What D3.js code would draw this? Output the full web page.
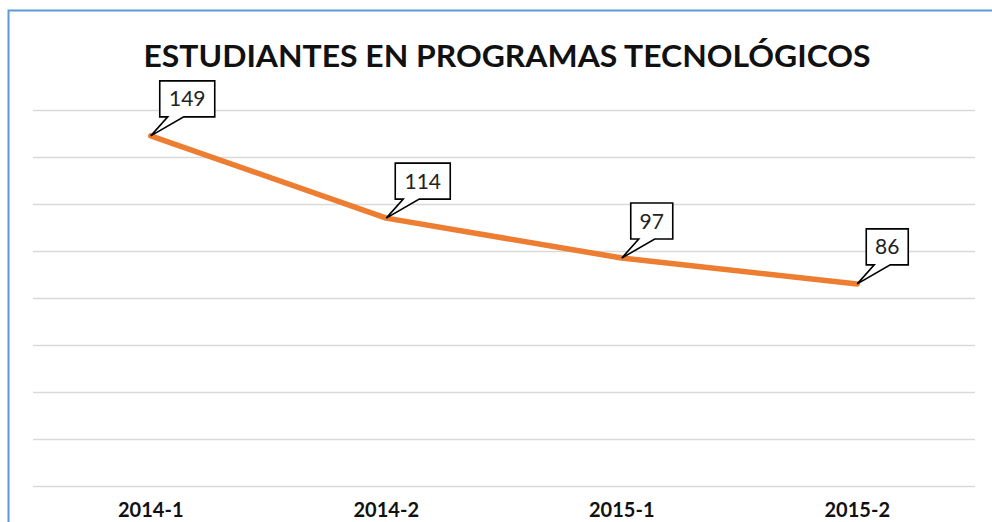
<!DOCTYPE html>
<html>
<head>
<meta charset="utf-8">
<script src="https://cdn.jsdelivr.net/npm/d3@7"></script>
<style>
  body { margin: 0; background: #fff; }
  svg { display: block; font-family: Lato, "Open Sans", sans-serif; }
</style>
</head>
<body>
<svg id="chart" width="992" height="522"></svg>
<script>
// data
const periods = ['2014-1', '2014-2', '2015-1', '2015-2']
const students = [149, 114, 97, 86]
const yTicks = [0, 20, 40, 60, 80, 100, 120, 140, 160]
const title = 'ESTUDIANTES EN PROGRAMAS TECNOLÓGICOS'

const svg = d3.select('#chart')
const plot = { left: 33, right: 975, top: 110, bottom: 486 }

// chart frame (only top and left are inside the window)
svg.append('rect')
  .attr('x', 8.5).attr('y', 10.5)
  .attr('width', 1100).attr('height', 600)
  .attr('fill', 'none')
  .attr('stroke', '#5b9bd5')
  .attr('stroke-width', 2)

svg.append('text')
  .attr('x', 507).attr('y', 67)
  .attr('text-anchor', 'middle')
  .attr('font-size', 30)
  .attr('font-weight', 'bold')
  .attr('fill', '#111')
  .attr('textLength', 727)
  .attr('lengthAdjust', 'spacingAndGlyphs')
  .text(title)

let x = d3.scaleBand().domain(periods).range([plot.left, plot.right])
let y = d3.scaleLinear().domain([0, 160]).range([plot.bottom, plot.top])

// gridlines
svg.append('g')
  .selectAll('line')
  .data(yTicks)
  .enter().append('line')
  .attr('x1', plot.left).attr('x2', plot.right)
  .attr('y1', d => Math.round(y(d)) + 0.5)
  .attr('y2', d => Math.round(y(d)) + 0.5)
  .attr('stroke', '#d9d9d9')
  .attr('stroke-width', 1.3)

// category labels (kept just inside the bottom edge)
let xAxis = svg.append('g')
  .attr('transform', 'translate(0,' + plot.bottom + ')')
  .call(d3.axisBottom(x).tickSize(0).tickPadding(17))
xAxis.select('.domain').remove()
xAxis.selectAll('text')
  .attr('font-family', 'Lato, "Open Sans", sans-serif')
  .attr('font-size', 20)
  .attr('font-weight', 'bold')
  .attr('fill', '#111')

let points = periods.map((p, i) => ({ p: p, v: students[i] }))
let cx = d => x(d.p) + x.bandwidth() / 2

svg.append('path')
  .datum(points)
  .attr('fill', 'none')
  .attr('stroke', '#ed7d31')
  .attr('stroke-width', 5.5)
  .attr('stroke-linejoin', 'round')
  .attr('stroke-linecap', 'round')
  .attr('d', d3.line().x(cx).y(d => y(d.v)))

// callout labels
let callout = svg.append('g')
  .selectAll('g')
  .data(points)
  .enter().append('g')
  .attr('transform', d => 'translate(' + cx(d) + ',' + y(d.v) + ')')

callout.append('path')
  .attr('fill', '#fff')
  .attr('stroke', '#000')
  .attr('stroke-width', 1.6)
  .attr('stroke-linejoin', 'miter')
  .attr('d', function (d) {
    let w = String(d.v).length > 2 ? 55 : 42
    let h = 36
    let x0 = 9
    let y1 = -19
    let y0 = y1 - h
    return 'M' + x0 + ',' + y0 + 'H' + (x0 + w) + 'V' + y1 +
      'H' + (x0 + 24) + 'L0,0L' + (x0 + 8) + ',' + y1 + 'H' + x0 + 'Z'
  })

callout.append('text')
  .attr('x', d => 9 + (String(d.v).length > 2 ? 27.5 : 21))
  .attr('y', -29.5)
  .attr('text-anchor', 'middle')
  .attr('font-size', 21)
  .attr('fill', '#222')
  .text(d => d.v)
</script>
</body>
</html>
